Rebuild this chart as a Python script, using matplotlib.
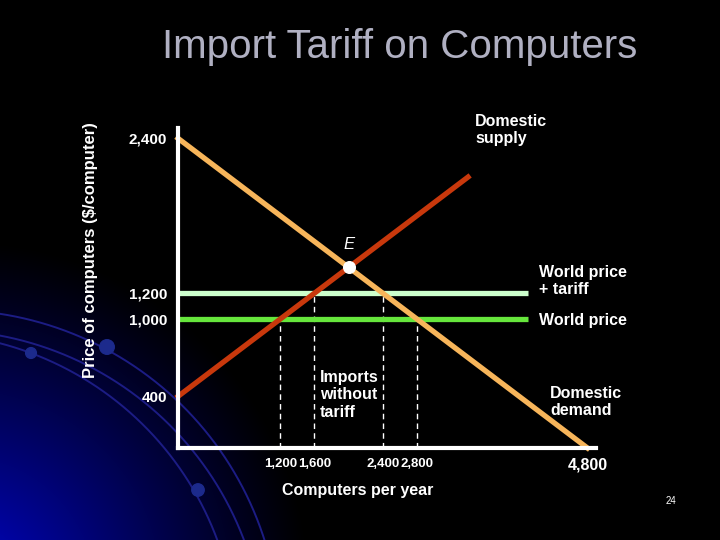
import numpy as np
import matplotlib
matplotlib.use('Agg')
import matplotlib.pyplot as plt

plt.rcParams['font.family'] = ['Liberation Sans', 'DejaVu Sans']

# economics of the slide
supply_q = [0, 1200, 1600, 2000, 3400]
supply_p = [400, 1000, 1200, 1400, 2100]
demand_q = [0, 2000, 2400, 2800, 4800]
demand_p = [2400, 1400, 1200, 1000, 0]
world_q = [0, 4100]
world_price = 1000
world_tariff = 1200
eq_q, eq_p = 2000, 1400
# quantities at world price (supplied, demanded) and with tariff
q_world = [1200, 2800]
q_tariff = [1600, 2400]

y_ticks = [400, 1000, 1200, 2400]
y_labels = ['400', '1,000', '1,200', '2,400']
x_ticks = [1200, 1600, 2400, 2800, 4800]
x_labels = ['1,200', '1,600', '2,400', '2,800', '4,800']

W, H = 720, 540
fig = plt.figure(figsize=(7.2, 5.4), dpi=100, facecolor='black')

# background: blue glow and arcs in the lower left corner
bg = fig.add_axes([0, 0, 1, 1], zorder=0)
bg.axis('off')
yy, xx = np.mgrid[0:H, 0:W]
r = np.hypot(xx + 40, yy - 590)
glow = np.clip(1 - r / 350, 0, 1) ** 1.1
img = np.zeros((H, W, 3))
img[..., 2] = 0.8 * glow
img[..., 1] = 0.02 * glow
bg.imshow(img, extent=(0, W, H, 0), aspect='auto')
t = np.linspace(0, 2 * np.pi, 720)
for cx, cy, rad in [(-50, 640, 330), (-60, 655, 325), (-80, 650, 317)]:
    bg.plot(cx + rad * np.cos(t), cy + rad * np.sin(t), color='#1c1c84', lw=1.4)
bg.scatter([31, 107, 198], [353, 347, 490], s=[60, 110, 80], color='#1c2a8c', zorder=3)
bg.set_xlim(0, W)
bg.set_ylim(H, 0)

# main chart
ax = fig.add_axes([178 / W, 1 - 448 / H, (596 - 178) / W, (448 - 128) / H], zorder=1)
ax.set_facecolor('none')
ax.set_xlim(0, 4900)
ax.set_ylim(0, 2480)
for s in ['top', 'right']:
    ax.spines[s].set_visible(False)
for s in ['left', 'bottom']:
    ax.spines[s].set_color('white')
    ax.spines[s].set_linewidth(3)

ax.vlines(q_world, 0, world_price, colors='white', linestyles=(0, (4, 3)), lw=1)
ax.vlines(q_tariff, 0, world_tariff, colors='white', linestyles=(0, (4, 3)), lw=1)
ax.plot(world_q, [world_tariff] * 2, color='#ccffcc', lw=3.8, solid_capstyle='butt')
ax.plot(world_q, [world_price] * 2, color='#66e63c', lw=3.8, solid_capstyle='butt')
ax.plot(demand_q, demand_p, color='#f7b55a', lw=3.8, clip_on=False)
ax.plot(supply_q, supply_p, color='#c8380c', lw=3.8, clip_on=False)
ax.scatter([eq_q], [eq_p], s=70, color='white', zorder=5, clip_on=False)
ax.annotate('E', (eq_q, eq_p), xytext=(0, 11), textcoords='offset points',
            ha='center', va='bottom', color='white', fontsize=12, style='italic')

ax.set_yticks(y_ticks)
ax.set_yticklabels(y_labels)
ax.set_xticks(x_ticks)
ax.set_xticklabels(x_labels)
ax.tick_params(length=0, colors='white')
ax.tick_params(axis='y', pad=8, labelsize=11)
ax.tick_params(axis='x', pad=7, labelsize=9.5)
for lab in ax.get_xticklabels() + ax.get_yticklabels():
    lab.set_fontweight('bold')
ax.get_xticklabels()[-1].set_fontsize(11.5)

def px(x, y):
    return x / W, 1 - y / H

txt = dict(color='white', fontsize=11.5, fontweight='bold', linespacing=1.2)
fig.text(*px(400, 47), 'Import Tariff on Computers', ha='center', va='center',
         color='#b0b0c2', fontsize=29)
fig.text(*px(475, 114), 'Domestic\nsupply', ha='left', va='top', **txt)
fig.text(*px(539, 281), 'World price\n+ tariff', ha='left', va='center', **txt)
fig.text(*px(539, 320), 'World price', ha='left', va='center', **txt)
fig.text(*px(320, 370), 'Imports\nwithout\ntariff', ha='left', va='top', **txt)
fig.text(*px(550, 386), 'Domestic\ndemand', ha='left', va='top', **txt)
fig.text(*px(358, 490), 'Computers per year', ha='center', va='center',
         color='white', fontsize=11.5, fontweight='bold')
fig.text(*px(91, 250), 'Price of computers ($/computer)', ha='center', va='center',
         rotation=90, color='white', fontsize=12, fontweight='bold')
fig.text(*px(671, 501), '24', ha='center', va='center', color='white', fontsize=7)

fig.savefig('out.png', dpi=100, facecolor='black')
